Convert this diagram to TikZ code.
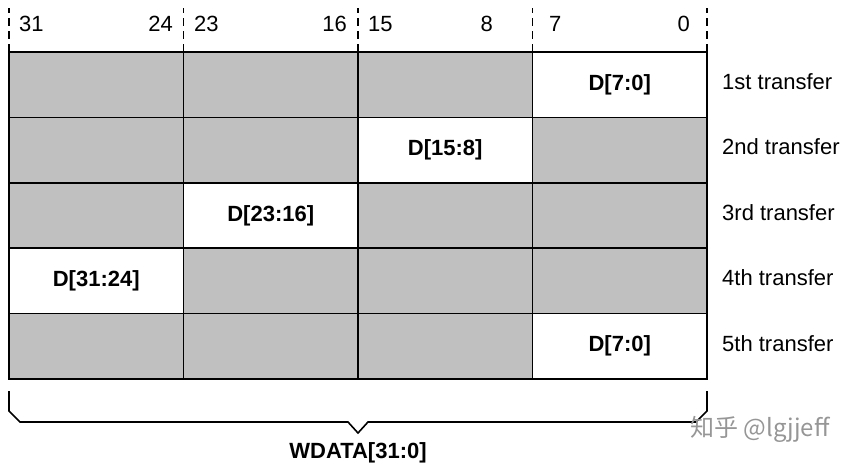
\documentclass[tikz,border=0pt]{standalone}
\usepackage{fontspec}
\setmainfont{Liberation Sans}
\newfontfamily\cjkfont{Noto Sans CJK SC}
\usetikzlibrary{positioning}
\definecolor{laneGray}{RGB}{192,192,192}
\definecolor{markGray}{RGB}{150,150,150}
\tikzset{
    lane-cell/.style = {draw=black, fill=laneGray, line width=1.6pt, rectangle, minimum width=174.5pt, minimum height=65.4pt, inner sep=0pt, outer sep=0pt, anchor=north west, font=\fontsize{22}{26}\selectfont\bfseries},
    xfer-label/.style = {inner sep=0pt, font=\fontsize{22}{26}\selectfont},
    bit-num/.style = {inner sep=0pt, font=\fontsize{22}{26}\selectfont},
    bit-tick/.style = {line width=1.3pt, dash pattern=on 8pt off 5pt},
    brace-line/.style = {line width=1.6pt},
    brace-label/.style = {inner sep=0pt, font=\fontsize{22}{26}\selectfont\bfseries},
    watermark/.style = {inner sep=0pt, text=markGray, font=\cjkfont\fontsize{24}{28}\selectfont},
}

\begin{document}
\begin{tikzpicture}[x=1pt, y=-1pt]
\useasboundingbox (0,0) rectangle (865,465);
% one row of byte lanes per transfer, the active lane left white
\foreach \row/\lane/\dat/\nth in {0/3/{D[7:0]}/1st, 1/2/{D[15:8]}/2nd, 2/1/{D[23:16]}/3rd, 3/0/{D[31:24]}/4th, 4/3/{D[7:0]}/5th}{
  \foreach \col in {0,...,3}{
    \ifnum\col=\lane
      \node[lane-cell, fill=white] (cell-\row-\col) at (9+174.5*\col, 52+65.4*\row) {\dat};
    \else
      \node[lane-cell] (cell-\row-\col) at (9+174.5*\col, 52+65.4*\row) {};
    \fi
  }
  \node[xfer-label, right=15pt of cell-\row-3, yshift=3pt] (xfer-\row) {\nth\ transfer};
}

% bit positions
\foreach \col in {0,...,3}
  \draw[bit-tick] (cell-0-\col.north west) -- ++(0,-44);
\draw[bit-tick] (cell-0-3.north east) -- ++(0,-44);
\foreach \x/\n in {19/31, 194/23, 368/15, 549/7}
  \node[bit-num, anchor=base west] (bit-\n) at (\x,32) {\n};
\foreach \x/\n in {173/24, 347/16, 493/8, 690/0}
  \node[bit-num, anchor=base east] (bit-\n) at (\x,32) {\n};

% brace under the bus
\coordinate (brace-l) at ([yshift=-12pt]cell-4-0.south west);
\coordinate (brace-r) at ([yshift=-12pt]cell-4-3.south east);
\coordinate (brace-tip) at (358,433);
\draw[brace-line] (brace-l) -- ++(0,20) -- ++(11,11) -- (348,422) -- (brace-tip)
  -- (368,422) -- (696,422) -- ++(11,-11) -- (brace-r);
\node[brace-label, below=9pt of brace-tip] (wdata) {WDATA[31:0]};

\node[watermark, anchor=west] (zhihu) at (690,429) {知乎 @lgjjeff};
\end{tikzpicture}
\end{document}
